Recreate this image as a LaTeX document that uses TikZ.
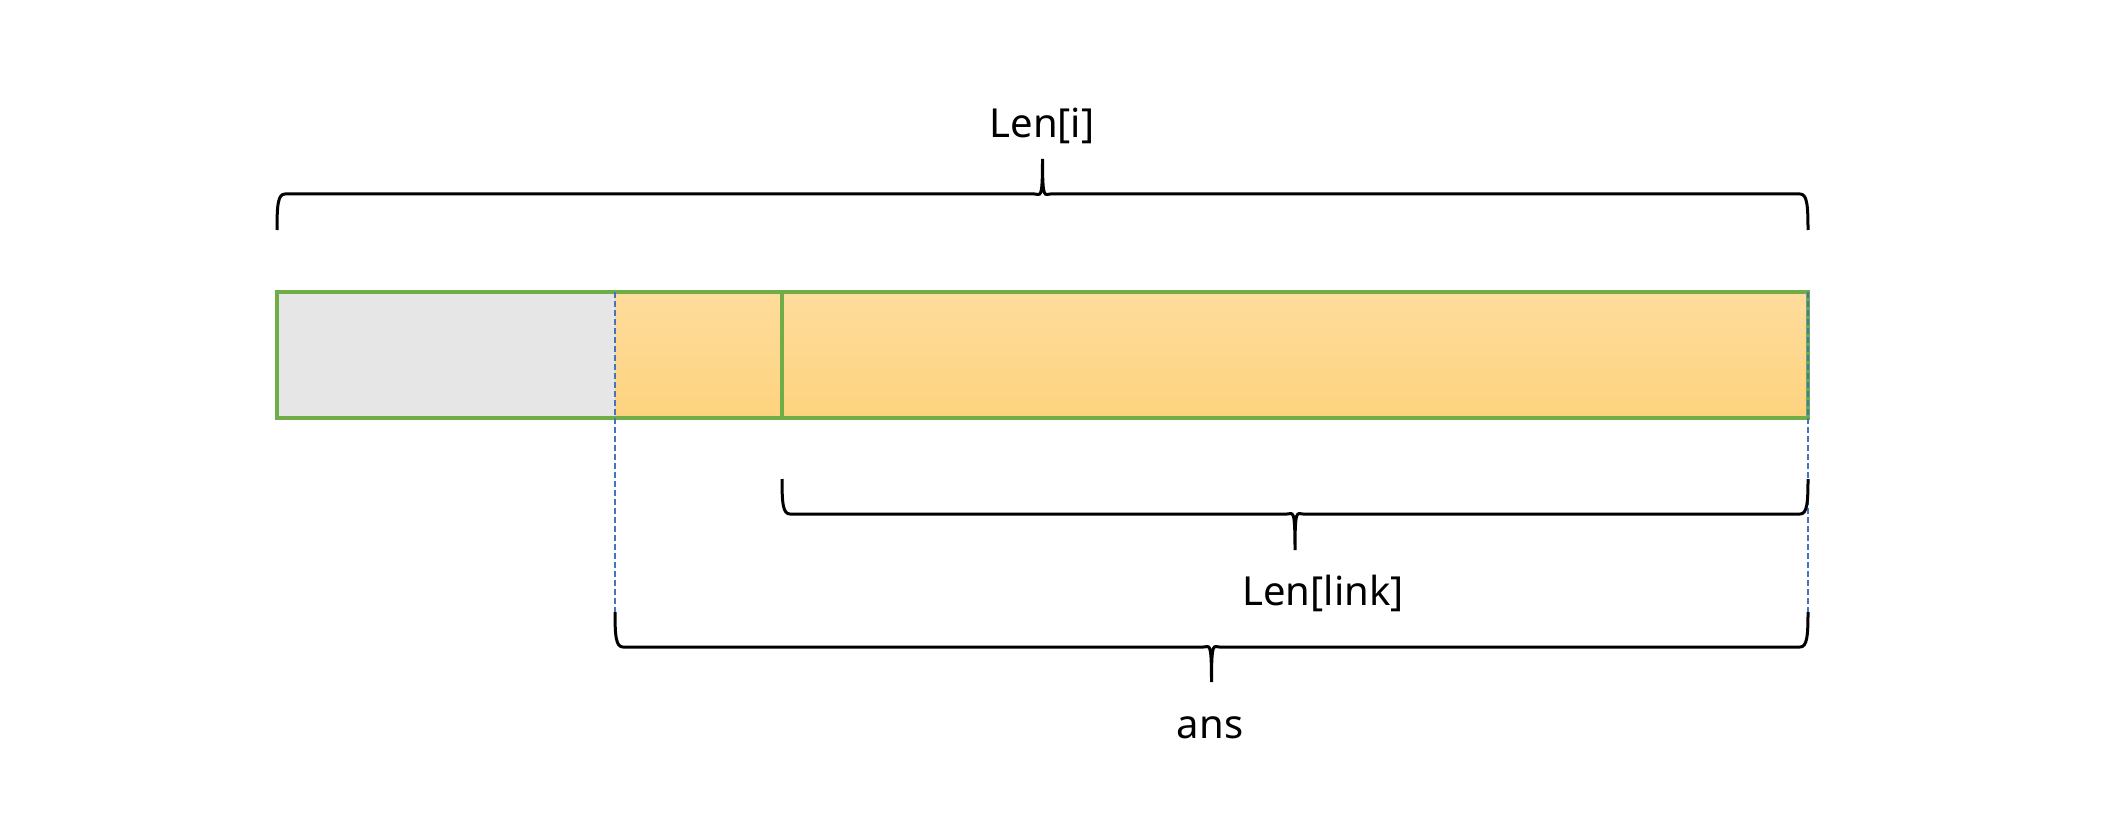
\documentclass[tikz,border=0pt]{standalone}
\usepackage{fontspec}
\setmainfont{Noto Sans}
\definecolor{boxgreen}{RGB}{112,173,71}
\definecolor{lgray}{RGB}{230,230,230}
\definecolor{otop}{RGB}{254,220,156}
\definecolor{obot}{RGB}{253,211,126}
\definecolor{dblue}{RGB}{68,114,196}
\tikzset{
  bracestyle/.style={line width=3pt, black},
  greenline/.style={line width=3.5pt, boxgreen},
  guide/.style={line width=2pt, dblue, dash pattern=on 6pt off 3pt},
  lbl/.style={font=\fontsize{40}{48}\selectfont, anchor=base, inner sep=0pt}
}
% #1 x1, #2 x2, #3 y of ends, #4 y of bar, #5 y of tip
\newcommand{\mybrace}[5]{%
  \pgfmathsetmacro{\xm}{(#1+#2)/2}%
  \pgfmathsetmacro{\dy}{(#4-#3)}%
  \draw[bracestyle] (#1,#3) .. controls (#1,{#4-0.3*\dy}) and ({#1+1},#4) .. ({#1+8},#4)
    -- ({\xm-8},#4) .. controls ({\xm-2},#4) and (\xm,{#4-0.2*\dy}) .. (\xm,#5)
    .. controls (\xm,{#4-0.2*\dy}) and ({\xm+2},#4) .. ({\xm+8},#4)
    -- ({#2-8},#4) .. controls ({#2-1},#4) and (#2,{#4-0.3*\dy}) .. (#2,#3);%
}
\begin{document}
\begin{tikzpicture}[x=1pt,y=-1pt]
\useasboundingbox (0,0) rectangle (2113,813);
% box corners and dividers
\coordinate (bl) at (277,292);
\coordinate (gr) at (615,418);
\coordinate (og) at (615,292);
\coordinate (br) at (1808,418);
\coordinate (dv1) at (782,292);
\coordinate (dv2) at (782,418);
\fill[lgray] (bl) rectangle (gr);
\fill[top color=otop, bottom color=obot] (og) rectangle (br);
\draw[greenline] (bl) rectangle (br);
\draw[greenline] (dv1) -- (dv2);
% guides
\coordinate (ga) at (615,292);
\coordinate (gb) at (615,612);
\coordinate (gc) at (1808,292);
\coordinate (gd) at (1808,612);
\draw[guide] (ga) -- (gb);
\draw[guide] (gc) -- (gd);
% braces
\mybrace{277}{1808}{230}{194}{159}
\mybrace{782}{1808}{479}{514}{550}
\mybrace{615}{1808}{612}{647}{682}
% labels
\node[lbl] (leni) at (1042,138) {Len[i]};
\node[lbl] (lenlink) at (1323,605) {Len[link]};
\node[lbl] (ans) at (1210,738) {ans};
\end{tikzpicture}
\end{document}
